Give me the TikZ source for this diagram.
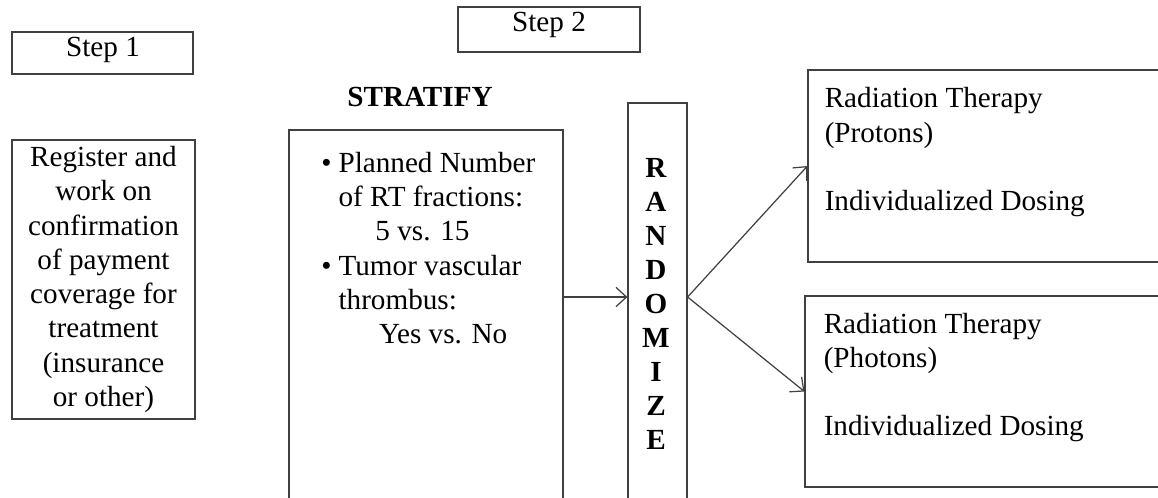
\documentclass[tikz,border=0pt]{standalone}
\usepackage{fontspec}
\setmainfont{Liberation Serif}
\usetikzlibrary{positioning,arrows.meta}
\tikzset{
  box/.style={draw=black!75, line width=0.7pt, inner sep=0pt},
  txt/.style={font=\fontsize{16.6}{19.5}\selectfont, inner sep=0pt},
  link/.style={draw=black!75, line width=0.7pt, -{Straight Barb[length=6pt,width=11pt]}}
}
\begin{document}
\begin{tikzpicture}[x=0.02cm,y=-0.02cm]
		\useasboundingbox (0,0) rectangle (1158,497);
		\clip (0,0) rectangle (1158,497);
		% step 1
		\node[box, minimum width=3.62cm, minimum height=0.84cm] (step1) at (102.5,53) {};
		\node[txt] (step1txt) at (103,50) {Step 1};
		\node[box, txt, minimum width=3.66cm, minimum height=5.58cm, align=center] (register) at (103.5,279.5)
			{Register and\\work on\\confirmation\\of payment\\coverage for\\treatment\\(insurance\\or other)};
		% step 2
		\node[box, minimum width=3.64cm, minimum height=0.9cm] (step2) at (549,29.5) {};
		\node[txt] (step2txt) at (549,25) {Step 2};
		\node[txt, font=\fontsize{16.6}{19.5}\selectfont\bfseries] (stratlbl) at (420,97) {STRATIFY};
		\node[box, minimum width=5.48cm, minimum height=8cm] (strat) at (426,330) {};
		\node[txt, anchor=north west] (strattxt) at (321,148) {%
			\begin{tabular}{@{}l@{\hspace{4pt}}l@{}}
			\textbullet & Planned Number\\
			 & of RT fractions:\\
			 & \hspace{21pt}5 vs. 15\\
			\textbullet & Tumor vascular\\
			 & thrombus:\\
			 & \hspace{23pt}Yes vs. No
			\end{tabular}};
		\node[box, minimum width=1.18cm, minimum height=8.54cm] (rand) at (657.5,316.5) {};
		\node[txt, font=\fontsize{16.6}{19.3}\selectfont\bfseries, align=center] (randtxt) at (656,304)
			{R\\A\\N\\D\\O\\M\\I\\Z\\E};
		% arms
		\node[box, minimum width=7.24cm, minimum height=3.84cm] (proton) at (989,166) {};
		\node[txt, anchor=north west, align=left] (protontxt) at ([shift={(17,18)}]proton.north west)
			{Radiation Therapy\\(Protons)\\ \mbox{}\\Individualized Dosing};
		\node[box, minimum width=7.3cm, minimum height=3.82cm] (photon) at (987.5,391.5) {};
		\node[txt, anchor=north west, align=left] (photontxt) at ([shift={(19,17)}]photon.north west)
			{Radiation Therapy\\(Photons)\\ \mbox{}\\Individualized Dosing};
		% connectors
		\coordinate (fork) at (rand.east |- 0,297);
		\draw[link] (strat.east |- fork) -- (rand.west |- fork);
		\draw[link] (fork) -- (proton.west);
		\draw[link] (fork) -- (photon.west);
\end{tikzpicture}
\end{document}
